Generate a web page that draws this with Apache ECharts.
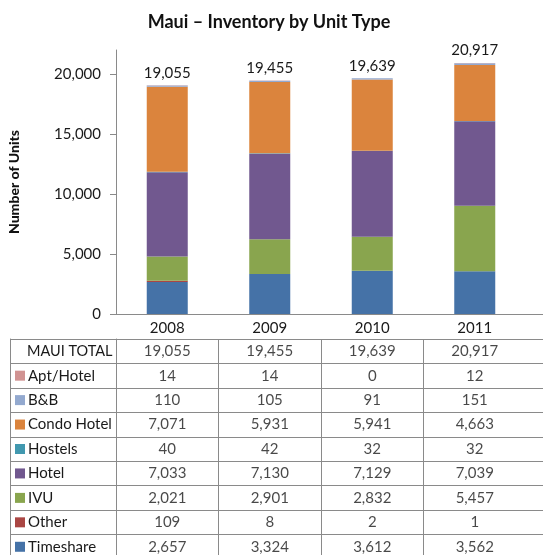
<!DOCTYPE html>
<html>
<head>
    <meta charset="utf-8">
    <title>Maui – Inventory by Unit Type</title>
    <script src="https://cdn.jsdelivr.net/npm/echarts@6.0.0/dist/echarts.min.js"></script>
    <style>
        html, body { margin: 0; padding: 0; background: #fff; }
    </style>
</head>
<body>
    <div id="main" style="width: 543px;height:555px;"></div>
    <script type="text/javascript">
        // categories
        var years = ['2008', '2009', '2010', '2011'];
        var yTicks = [0, 5000, 10000, 15000, 20000];

        // series values (table order, top to bottom)
        var totals     = [19055, 19455, 19639, 20917];
        var aptHotel   = [14, 14, 0, 12];
        var bnb        = [110, 105, 91, 151];
        var condoHotel = [7071, 5931, 5941, 4663];
        var hostels    = [40, 42, 32, 32];
        var hotel      = [7033, 7130, 7129, 7039];
        var ivu        = [2021, 2901, 2832, 5457];
        var other      = [109, 8, 2, 1];
        var timeshare  = [2657, 3324, 3612, 3562];

        var rowNames = ['MAUI TOTAL', 'Apt/Hotel', 'B&B', 'Condo Hotel', 'Hostels', 'Hotel', 'IVU', 'Other', 'Timeshare'];
        var rowValues = [totals, aptHotel, bnb, condoHotel, hostels, hotel, ivu, other, timeshare];
        var rowColors = [null, '#D19392', '#93A9CF', '#DB843D', '#4198AF', '#71588F', '#89A54E', '#AA4643', '#4572A7'];

        var FONT = 'Lato';
        var LINE = '#8a8a8a';
        // extra empty column so that the table runs off the right edge like the original
        var cats = years.concat(['']);

        // stacked bars, bottom to top
        var series = [];
        for (var i = rowNames.length - 1; i >= 1; i--) {
            series.push({
                name: rowNames[i],
                type: 'bar',
                stack: 'units',
                barWidth: 41,
                xAxisIndex: 0,
                yAxisIndex: 0,
                itemStyle: { color: rowColors[i] },
                data: rowValues[i]
            });
        }
        // totals above the bars
        series.push({
            name: 'total',
            type: 'line',
            xAxisIndex: 0,
            yAxisIndex: 0,
            data: totals,
            symbolSize: 0,
            lineStyle: { opacity: 0 },
            silent: true,
            label: {
                show: true,
                position: 'top',
                distance: 5,
                fontFamily: FONT,
                fontSize: 15,
                color: '#1a1a1a',
                formatter: function (p) { return p.value.toLocaleString('en-US'); }
            }
        });

        // data table cells
        var cells = [];
        rowValues.forEach(function (vals, r) {
            vals.forEach(function (v, c) { cells.push([c, r, v]); });
        });
        series.push({
            name: 'table',
            type: 'scatter',
            xAxisIndex: 1,
            yAxisIndex: 1,
            symbolSize: 0,
            silent: true,
            data: cells,
            label: {
                show: true,
                position: 'inside',
                fontFamily: FONT,
                fontSize: 15,
                color: '#1a1a1a',
                formatter: function (p) { return p.data[2].toLocaleString('en-US'); }
            }
        });

        var rich = { tot: { fontFamily: FONT, fontSize: 14.5, color: '#1a1a1a', padding: [0, 0, 0, 12] },
                     t: { fontFamily: FONT, fontSize: 15, color: '#1a1a1a', padding: [0, 0, 0, 3] } };
        rowColors.forEach(function (c, i) {
            if (c) rich['s' + i] = { width: 10, height: 10, backgroundColor: c };
        });

        var option = {
            animation: false,
            title: {
                text: 'Maui – Inventory by Unit Type',
                left: 264,
                top: 8,
                textAlign: 'center',
                textStyle: { fontFamily: FONT, fontSize: 18, fontWeight: 'bold', color: '#111' }
            },
            grid: [
                { left: 116, top: 50, width: 512.5, height: 264, outerBoundsMode: 'none' },
                { left: 116, top: 339, width: 512.5, height: 220, outerBoundsMode: 'none' }
            ],
            xAxis: [
                {
                    type: 'category',
                    gridIndex: 0,
                    data: cats,
                    axisLine: { lineStyle: { color: LINE } },
                    axisTick: {
                        length: 25,
                        lineStyle: { color: LINE },
                        interval: function (idx) { return idx < years.length; }
                    },
                    axisLabel: { margin: 7, fontFamily: FONT, fontSize: 15, color: '#1a1a1a', interval: 0 }
                },
                {
                    type: 'category',
                    gridIndex: 1,
                    data: cats,
                    axisLine: { show: false },
                    axisTick: { show: false },
                    axisLabel: { show: false },
                    splitLine: {
                        show: true,
                        lineStyle: { color: LINE },
                        interval: function (idx) { return idx < years.length; }
                    }
                }
            ],
            yAxis: [
                {
                    type: 'value',
                    gridIndex: 0,
                    min: 0,
                    max: 22000,
                    interval: 5000,
                    name: 'Number of Units',
                    nameLocation: 'middle',
                    nameRotate: 90,
                    nameGap: 95,
                    nameTextStyle: { fontFamily: FONT, fontSize: 14, fontWeight: 900, color: '#111' },
                    axisLine: { show: true, lineStyle: { color: LINE } },
                    axisTick: { show: true, length: 6, lineStyle: { color: LINE }, customValues: yTicks },
                    axisLabel: {
                        customValues: yTicks,
                        margin: 15,
                        fontFamily: FONT,
                        fontSize: 15,
                        color: '#1a1a1a',
                        formatter: function (v) { return v.toLocaleString('en-US'); }
                    },
                    splitLine: { show: false }
                },
                {
                    type: 'category',
                    gridIndex: 1,
                    inverse: true,
                    data: rowNames,
                    axisLine: { show: true, lineStyle: { color: LINE } },
                    axisTick: { show: true, length: 106, interval: 0, lineStyle: { color: LINE } },
                    axisLabel: {
                        interval: 0,
                        align: 'left',
                        margin: 101,
                        formatter: function (v, i) {
                            return i === 0 ? '{tot|' + v + '}' : '{s' + i + '|}{t|' + v + '}';
                        },
                        rich: rich
                    },
                    splitLine: { show: true, interval: 0, lineStyle: { color: LINE } }
                },
                {
                    type: 'category',
                    gridIndex: 1,
                    position: 'left',
                    offset: 106,
                    inverse: true,
                    data: rowNames,
                    axisLine: { show: true, lineStyle: { color: LINE } },
                    axisTick: { show: false },
                    axisLabel: { show: false }
                }
            ],
            series: series
        };

        var chart = echarts.init(document.getElementById('main'));
        chart.setOption(option);
    </script>
</body>
</html>
